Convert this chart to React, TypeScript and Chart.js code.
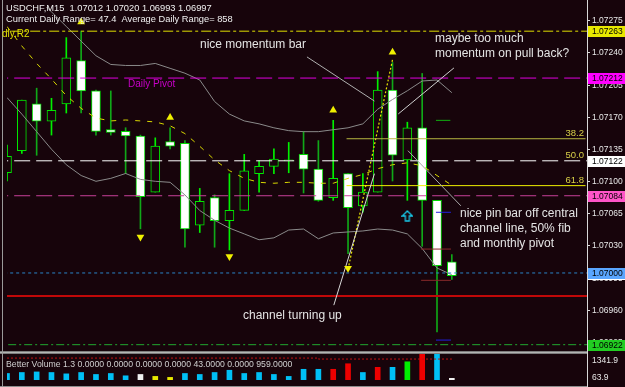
import React, { useEffect, useRef } from "react";
import { Chart, registerables } from "chart.js";

Chart.register(...registerables);

// ---------- data ----------
const symbolHeader = "USDCHF,M15  1.07012 1.07020 1.06993 1.06997";
const rangeHeader = "Current Daily Range= 47.4  Average Daily Range= 858";
const volumeHeader = "Better Volume 1.3 0.0000 0.0000 0.0000 0.0000 43.0000 0.0000 959.0000";

const barIndex = [0,1,2,3,4,5,6,7,8,9,10,11,12,13,14,15,16,17,18,19,20,21,22,23,24,25,26,27,28,29,30];
const opens = [1.07109,1.07133,1.07184,1.07165,1.07184,1.07231,1.07198,1.07156,1.07154,1.07149,1.07088,1.07143,1.07141,1.07052,1.07082,1.07057,1.07068,1.07108,1.07116,1.07122,1.07129,1.07113,1.07082,1.07108,1.07073,1.07088,1.07199,1.07123,1.07158,1.07079,1.07012];
const highs = [1.07139,1.07188,1.07201,1.07190,1.07256,1.07263,1.07199,1.07198,1.07158,1.07150,1.07147,1.07158,1.07144,1.07092,1.07085,1.07108,1.07129,1.07122,1.07135,1.07142,1.07154,1.07144,1.07166,1.07108,1.07108,1.07219,1.07229,1.07164,1.07217,1.07079,1.07020];
const lows = [1.07100,1.07130,1.07128,1.07150,1.07174,1.07174,1.07150,1.07150,1.07108,1.07048,1.07088,1.07135,1.07028,1.07044,1.07028,1.07025,1.07068,1.07088,1.07108,1.07109,1.07087,1.07078,1.07079,1.07021,1.07066,1.07088,1.07100,1.07079,1.07029,1.06936,1.06993];
const closes = [1.07127,1.07188,1.07165,1.07177,1.07234,1.07198,1.07154,1.07153,1.07149,1.07083,1.07138,1.07138,1.07048,1.07078,1.07057,1.07068,1.07111,1.07116,1.07124,1.07123,1.07113,1.07079,1.07103,1.07071,1.07088,1.07199,1.07128,1.07158,1.07079,1.07008,1.06997];

const upperBand = [1.073317,1.073158,1.072999,1.07284,1.072681,1.072522,1.072363,1.072268,1.072257,1.072257,1.072279,1.072226,1.072173,1.072099,1.071865,1.071728,1.071654,1.071622,1.071579,1.071548,1.071537,1.071537,1.071558,1.071579,1.071622,1.071781,1.071887,1.071982,1.072088,1.072099,1.071961];
const lowerBand = [1.071908,1.071728,1.071537,1.071346,1.071177,1.07106,1.070997,1.071029,1.071082,1.071018,1.070997,1.070986,1.070849,1.070679,1.070573,1.070488,1.070425,1.070361,1.070382,1.070467,1.070478,1.070372,1.070435,1.070446,1.070457,1.070478,1.070467,1.070425,1.070266,1.070054,1.06998];
const signalLine = [1.072681,1.072469,1.072279,1.072109,1.071929,1.071791,1.071685,1.071654,1.071664,1.071654,1.071643,1.071601,1.071516,1.071378,1.07123,1.071113,1.071029,1.070986,1.070976,1.070986,1.070986,1.070976,1.070976,1.071029,1.071071,1.071134,1.071177,1.071198,1.071166,1.07106,1.070954];

const volumes = [324,370,397,370,306,370,278,324,215,278,187,141,324,278,370,475,324,370,278,187,520,520,520,780,370,612,612,872,1296,1342,96];
const volumeKind = ["n","n","n","n","n","n","n","n","n","w","y","y","n","n","n","n","n","n","n","n","n","n","r","r","n","r","n","g","r","n","w"];
const volumeAverage = [1045,1045,1045,1045,1045,1045,1045,1045,1045,1045,1045,1045,1045,1045,1045,1045,1045,1045,1045,1045,1045,1045,1000,1000,1000,1000,1000,1000,1000,1000,1000];

const priceTicks = [1.07275,1.0724,1.07205,1.0717,1.07135,1.071,1.07065,1.0703,1.06995,1.0696,1.06925];
const volumeTicks = [1341.9, 63.9];

const levelR2 = 1.07263;
const levelDailyPivot = 1.07212;
const levelCentral = 1.07122;
const levelMonthlyPivot = 1.07084;
const levelRound = 1.07;
const levelSupport = 1.06975;
const levelLow = 1.06922;

const fibPrices = [1.07146, 1.07122, 1.07095];
const fibLabels = ["38.2", "50.0", "61.8"];
const fibFromBar = 22.9;

const fractalUpBars = [5, 11, 22, 26];
const fractalUpPrices = [1.07273, 1.07169, 1.07177, 1.0724];
const fractalDownBars = [9, 15, 23];
const fractalDownPrices = [1.07039, 1.07018, 1.07005];
const signalArrowBars = [27];
const signalArrowPrices = [1.07062];

const zigzagBars = [23, 26];
const zigzagPrices = [1.07004, 1.07232];

const markGreenBars = [28.93, 29.9];
const markGreenPrice = 1.07166;
const markBlueBars = [28.93, 29.94];
const markBluePrices = [1.07066, 1.06927];
const markRedBars = [27.93, 29.94];
const markRedPrices = [1.07026, 1.06992];

const calloutMomentum = [{ x: 20.23, y: 1.07235 }, { x: 24.78, y: 1.07187 }];
const calloutPullBack = [{ x: 30.14, y: 1.07223 }, { x: 26.39, y: 1.07173 }];
const calloutPinBar = [{ x: 27.04, y: 1.07133 }, { x: 30.61, y: 1.07073 }];
const calloutChannel = [{ x: 22.04, y: 1.06965 }, { x: 24.78, y: 1.07108 }];

// ---------- component ----------
const BG = "#17040b";

export default function App() {
  const ref = useRef<HTMLCanvasElement>(null);

  useEffect(() => {
    const canvas = ref.current;
    if (!canvas) return;

    const arrowImg = document.createElement("canvas");
    arrowImg.width = 12;
    arrowImg.height = 12;
    const actx = arrowImg.getContext("2d")!;
    actx.strokeStyle = "#18c8e8";
    actx.lineWidth = 1.3;
    actx.beginPath();
    actx.moveTo(6, 1); actx.lineTo(11, 6); actx.lineTo(8, 6); actx.lineTo(8, 11);
    actx.lineTo(4, 11); actx.lineTo(4, 6); actx.lineTo(1, 6); actx.closePath();
    actx.stroke();

    const XMIN = 0, XMAX = 39.116;
    const hline = (p: number) => [{ x: XMIN - 1, y: p }, { x: XMAX + 1, y: p }];
    const seg = (b: number[], p: number) => [{ x: b[0], y: p }, { x: b[1], y: p }];
    const series = (arr: number[]) => barIndex.map((i) => ({ x: i, y: arr[i] }));
    const lineDs = (data: any[], color: string, dash: number[], width = 1, order = 5, extra: any = {}) => ({
      type: "line", data, borderColor: color, borderWidth: width, borderDash: dash,
      pointRadius: 0, fill: false, tension: 0, order, xAxisID: "x", yAxisID: "y", ...extra,
    });
    const isBull = (i: number) => closes[i] >= opens[i];
    const volColor: Record<string, string> = { n: "#00bff5", w: "#f0f0f0", y: "#e8e800", r: "#ee0000", g: "#00ee00" };

    const datasets: any[] = [
      {
        type: "bar", label: "wicks",
        data: barIndex.map((i) => ({ x: i, y: [lows[i], highs[i]] })),
        backgroundColor: barIndex.map((i) => (isBull(i) ? "#00f000" : "#10a818")),
        barThickness: 1, grouped: false, order: 30, xAxisID: "x", yAxisID: "y",
      },
      {
        type: "bar", label: "bodies",
        data: barIndex.map((i) => ({ x: i, y: [opens[i], closes[i]] })),
        backgroundColor: barIndex.map((i) => (isBull(i) ? BG : "#ffffff")),
        borderColor: barIndex.map((i) => (isBull(i) ? "#00e800" : "#00d800")),
        borderWidth: 1, borderSkipped: false, barThickness: 9, grouped: false,
        order: 29, xAxisID: "x", yAxisID: "y",
      },
      {
        type: "bar", label: "volume",
        data: barIndex.map((i) => ({ x: i, y: volumes[i] })),
        backgroundColor: barIndex.map((i) => volColor[volumeKind[i]]),
        barThickness: 5, grouped: false, order: 28, xAxisID: "x", yAxisID: "yv",
      },
      lineDs(barIndex.map((i) => ({ x: i, y: volumeAverage[i] })), "#c01010", [2, 2], 1, 27, { yAxisID: "yv", stepped: "after" }),
      lineDs(series(upperBand), "#8a8a8a", [], 1, 12),
      lineDs(series(lowerBand), "#8a8a8a", [], 1, 12),
      lineDs(series(signalLine), "#d8d800", [5, 7], 1, 11),
      lineDs(zigzagBars.map((b, k) => ({ x: b, y: zigzagPrices[k] })), "#e8e800", [2, 2], 1.2, 11),
      lineDs(hline(levelR2), "#e0e000", [10, 3, 3, 3], 1, 8),
      lineDs(hline(levelDailyPivot), "#e000e0", [16, 6], 1, 8),
      lineDs(hline(levelCentral), "#ffffff", [16, 6], 1, 8),
      lineDs(hline(levelMonthlyPivot), "#c8409a", [16, 6], 1, 8),
      lineDs(hline(levelRound), "#2a84c8", [3, 3], 1, 8),
      lineDs(hline(levelSupport), "#c00808", [], 2, 8),
      lineDs(hline(levelLow), "#20a830", [8, 3, 2, 3], 1, 8),
      lineDs([{ x: fibFromBar, y: fibPrices[0] }, { x: XMAX - 0.1, y: fibPrices[0] }], "#b8b840", [], 1, 9),
      lineDs([{ x: fibFromBar, y: fibPrices[2] }, { x: XMAX - 0.1, y: fibPrices[2] }], "#f0f000", [], 1, 9),
      lineDs(seg(markGreenBars, markGreenPrice), "#10b010", [], 1, 7),
      lineDs(seg(markBlueBars, markBluePrices[0]), "#2020e0", [], 1, 7),
      lineDs(seg(markBlueBars, markBluePrices[1]), "#2020e0", [], 1, 7),
      lineDs(seg(markRedBars, markRedPrices[0]), "#8a2a2a", [], 1, 7),
      lineDs(seg(markRedBars, markRedPrices[1]), "#8a2a2a", [], 1, 7),
      lineDs(calloutMomentum, "#b0b0b0", [], 1, 3),
      lineDs(calloutPullBack, "#d0d0d0", [], 1, 3),
      lineDs(calloutPinBar, "#a8a8a8", [], 1, 3),
      lineDs(calloutChannel, "#d8d8d8", [], 1, 3),
      {
        type: "scatter", data: fractalUpBars.map((b, k) => ({ x: b, y: fractalUpPrices[k] })),
        pointStyle: "triangle", pointRadius: 4.5, backgroundColor: "#f0f000", borderWidth: 0,
        order: 2, xAxisID: "x", yAxisID: "y",
      },
      {
        type: "scatter", data: fractalDownBars.map((b, k) => ({ x: b, y: fractalDownPrices[k] })),
        pointStyle: "triangle", rotation: 180, pointRadius: 4.5, backgroundColor: "#f0f000", borderWidth: 0,
        order: 2, xAxisID: "x", yAxisID: "y",
      },
      {
        type: "scatter", data: signalArrowBars.map((b, k) => ({ x: b, y: signalArrowPrices[k] })),
        pointStyle: arrowImg, pointRadius: 6, order: 2, xAxisID: "x", yAxisID: "y",
      },
    ];

    const FONT = '"Liberation Sans", Arial, sans-serif';

    const overlay = {
      id: "mt4Overlay",
      beforeDraw(chart: any) {
        const { ctx, width, height } = chart;
        ctx.save();
        ctx.fillStyle = BG;
        ctx.fillRect(0, 0, width, height);
        ctx.restore();
      },
      afterDatasetsDraw(chart: any) {
        const { ctx } = chart;
        ctx.save();
        ctx.fillStyle = "#7c7c7c";
        ctx.fillRect(0, 351, 587, 3);
        ctx.fillStyle = "#b4b4b4";
        ctx.fillRect(0, 352, 587, 1);
        ctx.fillStyle = "#8c8c8c";
        ctx.fillRect(0, 386, 587, 1);
        ctx.restore();
      },
      afterDraw(chart: any) {
        const { ctx } = chart;
        const ys = chart.scales.y;
        const yv = chart.scales.yv;
        const ln = (x1: number, y1: number, x2: number, y2: number) => {
          ctx.beginPath(); ctx.moveTo(x1, y1); ctx.lineTo(x2, y2); ctx.stroke();
        };
        ctx.save();
        ctx.setLineDash([]);
        ctx.lineWidth = 1;
        ctx.strokeStyle = "#9a9a9a";
        ln(2.5, 0, 2.5, 387);
        ctx.strokeStyle = "#d8d8d8";
        ln(587.5, 0, 587.5, 387);

        // price ticks
        ctx.font = "8.5px " + FONT;
        ctx.textBaseline = "middle";
        ctx.textAlign = "left";
        ctx.fillStyle = "#e8e8e8";
        priceTicks.forEach((v) => {
          const py = Math.round(ys.getPixelForValue(v)) + 0.5;
          ln(587, py, 590, py);
          ctx.fillText(v.toFixed(5), 592, py);
        });
        volumeTicks.forEach((v) => {
          const py = Math.round(yv.getPixelForValue(v)) - 1;
          ctx.fillText(String(v), 592, py < 360 ? 361 : py);
        });

        // level boxes
        const boxes: [number, string][] = [
          [levelR2, "#e8e800"], [levelDailyPivot, "#ff00ff"], [levelCentral, "#ffffff"],
          [levelMonthlyPivot, "#ff55c8"], [levelRound, "#5aa6ff"], [levelLow, "#22cc22"],
        ];
        boxes.forEach(([p, c]) => {
          const py = Math.round(ys.getPixelForValue(p));
          ctx.fillStyle = c;
          ctx.fillRect(588, py - 5, 37, 11);
          ctx.fillStyle = "#000000";
          ctx.fillText(p.toFixed(5), 592, py + 0.5);
        });
        const rp = Math.round(ys.getPixelForValue(levelRound));
        ctx.fillStyle = "#ffffff";
        ctx.fillRect(588, rp + 6, 37, 1);

        // fib labels
        ctx.font = "9.5px " + FONT;
        ctx.textAlign = "right";
        ctx.textBaseline = "alphabetic";
        ctx.fillStyle = "#d8d048";
        fibPrices.forEach((p, k) => {
          ctx.fillText(fibLabels[k], 584, ys.getPixelForValue(p) - 3);
        });

        // header texts
        ctx.textAlign = "left";
        ctx.font = "9.3px " + FONT;
        ctx.fillStyle = "#f0f0f0";
        ctx.fillText(symbolHeader, 6, 11);
        ctx.fillText(rangeHeader, 6, 21.5);
        ctx.font = "10px " + FONT;
        ctx.fillStyle = "#e0e000";
        ctx.fillText("dly.R2", 2, 37);
        ctx.fillStyle = "#c800c8";
        ctx.fillText("Daily Pivot", 128, 87);
        ctx.font = "8.7px " + FONT;
        ctx.fillStyle = "#d0d0d0";
        ctx.fillText(volumeHeader, 6, 366.5);

        // annotations
        ctx.font = "12px " + FONT;
        ctx.fillStyle = "#e4e4e4";
        ctx.fillText("nice momentum bar", 200, 48);
        ctx.fillText("maybe too much", 435, 42);
        ctx.fillText("momentum on pull back?", 435, 57);
        ctx.fillText("nice pin bar off central", 460, 217);
        ctx.fillText("channel line, 50% fib", 460, 232);
        ctx.fillText("and monthly pivot", 460, 247);
        ctx.fillText("channel turning up", 243, 319);
        ctx.restore();
      },
    };

    const chart = new Chart(canvas, {
      type: "bar",
      data: { datasets },
      options: {
        animation: false,
        responsive: false,
        maintainAspectRatio: false,
        devicePixelRatio: 1,
        layout: { padding: { left: 3, right: 38, top: 2, bottom: 2 } },
        plugins: { legend: { display: false }, tooltip: { enabled: false } },
        events: [],
        scales: {
          x: { type: "linear", min: XMIN, max: XMAX, display: false, offset: false },
          y: { type: "linear", min: 1.0688358, max: 1.072893, display: false, beginAtZero: false },
          yv: { type: "linear", min: 18.26, max: 17498.4, display: false, beginAtZero: false },
        },
      } as any,
      plugins: [overlay],
    } as any);

    return () => chart.destroy();
  }, []);

  return (
    <div style={{ position: "fixed", left: 0, top: 0, width: 625, height: 387, background: BG }}>
      <canvas ref={ref} width={625} height={387} style={{ display: "block", width: 625, height: 387 }} />
    </div>
  );
}
